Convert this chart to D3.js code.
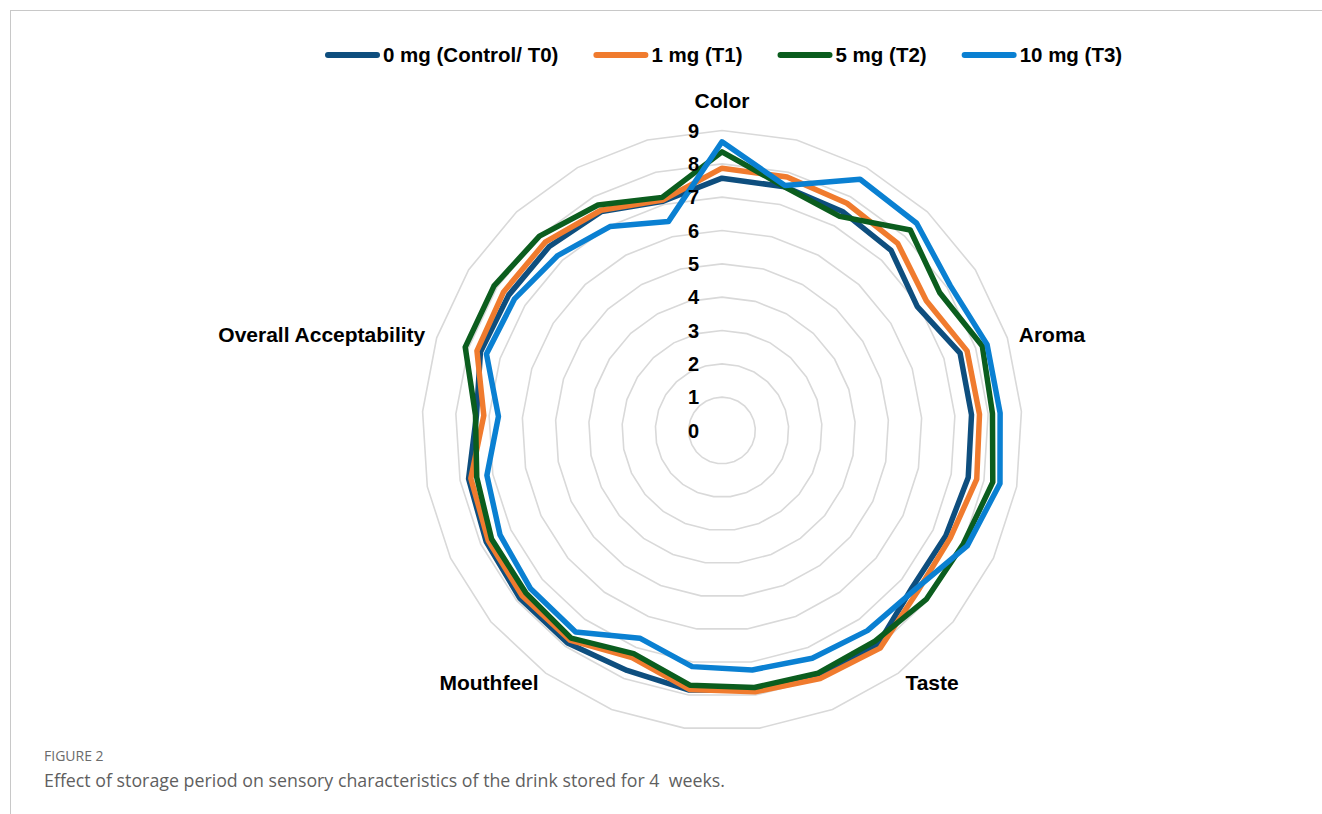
<!DOCTYPE html>
<html>
<head>
<meta charset="utf-8">
<script src="https://cdn.jsdelivr.net/npm/d3@7"></script>
<style>
  body { margin: 0; background: #fff; }
  svg { display: block; }
</style>
</head>
<body>
<script>
// 5 attributes x 5 weekly readings (week 0..4), only first of each group labelled
const categories = [
  'Color', '', '', '', '',
  'Aroma', '', '', '', '',
  'Taste', '', '', '', '',
  'Mouthfeel', '', '', '', '',
  'Overall Acceptability', '', '', '', ''
];
const seriesNames = ['0 mg (Control/ T0)', '1 mg (T1)', '5 mg (T2)', '10 mg (T3)'];
const seriesColors = ['#0e4e7e', '#f07b2e', '#0b5d1e', '#0a80d2'];

const t0 = [7.57, 7.55, 7.5, 7.41, 6.94, 7.51, 7.5, 7.52, 7.42, 7.4, 7.95, 7.9, 7.85, 7.85, 7.74, 7.88, 7.88, 7.82, 7.74, 7.38, 7.62, 7.58, 7.57, 7.5, 7.1];
const t1 = [7.87, 7.85, 7.78, 7.7, 7.26, 7.73, 7.74, 7.78, 7.57, 7.6, 8.07, 8.0, 7.9, 7.83, 7.33, 7.77, 7.78, 7.75, 7.67, 7.16, 7.73, 7.76, 7.75, 7.54, 7.14];
const t2 = [8.36, 7.55, 7.33, 8.25, 7.73, 8.21, 8.13, 8.27, 8.0, 7.95, 7.81, 7.83, 7.77, 7.7, 7.2, 7.7, 7.64, 7.64, 7.49, 7.41, 8.1, 8.1, 8.0, 7.72, 7.22];
const t3 = [8.66, 7.59, 8.6, 8.53, 8.11, 8.36, 8.36, 8.49, 8.13, 7.5, 7.42, 7.35, 7.24, 7.14, 6.7, 7.47, 7.45, 7.36, 7.18, 6.72, 7.43, 7.37, 7.2, 6.98, 6.47];

const ticks = [0, 1, 2, 3, 4, 5, 6, 7, 8, 9];

const series = [t0, t1, t2, t3];

const width = 1322;
const height = 814;
const cx = 722;
const cy = 430.5;
const radius = 300;

const svg = d3.select('body')
  .append('svg')
  .attr('width', width)
  .attr('height', height);

// page frame
svg.append('line')
  .attr('x1', 10).attr('x2', width)
  .attr('y1', 10.5).attr('y2', 10.5)
  .attr('stroke', '#c8c8c8').attr('stroke-width', 1);
svg.append('line')
  .attr('x1', 10.5).attr('x2', 10.5)
  .attr('y1', 10).attr('y2', height)
  .attr('stroke', '#c8c8c8').attr('stroke-width', 1);

const n = categories.length;
const angle = d3.scaleLinear().domain([0, n]).range([0, 2 * Math.PI]);
const r = d3.scaleLinear().domain([0, 9]).range([0, radius]);

const g = svg.append('g').attr('transform', 'translate(' + cx + ',' + cy + ')');

const radialLine = d3.lineRadial()
  .angle(function(d, i) { return angle(i); })
  .radius(function(d) { return r(d); })
  .curve(d3.curveLinearClosed);

// grid rings
g.append('g')
  .selectAll('path')
  .data(ticks.filter(function(t) { return t > 0; }))
  .enter()
  .append('path')
  .attr('d', function(t) { return radialLine(categories.map(function() { return t; })); })
  .attr('fill', 'none')
  .attr('stroke', '#d9d9d9')
  .attr('stroke-width', 1.6);

// series
g.append('g')
  .selectAll('path')
  .data(series)
  .enter()
  .append('path')
  .attr('d', function(d) { return radialLine(d); })
  .attr('fill', 'none')
  .attr('stroke', function(d, i) { return seriesColors[i]; })
  .attr('stroke-width', 5.5)
  .attr('stroke-linejoin', 'round');

// tick labels
g.append('g')
  .selectAll('text')
  .data(ticks)
  .enter()
  .append('text')
  .attr('x', -23)
  .attr('y', function(t) { return -r(t); })
  .attr('dy', '0.36em')
  .attr('text-anchor', 'end')
  .style('font-family', 'Liberation Sans, Arial, sans-serif')
  .style('font-weight', 'bold')
  .style('font-size', '20px')
  .style('fill', '#000')
  .text(function(t) { return t; });

// category labels
g.append('g')
  .selectAll('text')
  .data(categories.map(function(c, i) { return {name: c, i: i}; })
    .filter(function(d) { return d.name !== ''; }))
  .enter()
  .append('text')
  .each(function(d) {
    var a = angle(d.i);
    var s = Math.sin(a);
    var off = Math.abs(s) < 0.1 ? 30 : 12;
    d3.select(this)
      .attr('x', (radius + off) * s)
      .attr('y', -(radius + off) * Math.cos(a))
      .attr('text-anchor', Math.abs(s) < 0.1 ? 'middle' : (s > 0 ? 'start' : 'end'));
  })
  .attr('dy', '0.36em')
  .style('font-family', 'Liberation Sans, Arial, sans-serif')
  .style('font-weight', 'bold')
  .style('font-size', '21px')
  .style('fill', '#000')
  .text(function(d) { return d.name; });

// legend
var legend = svg.append('g').attr('transform', 'translate(0, 55)');
var lx = 325;
seriesNames.forEach(function(name, i) {
  legend.append('line')
    .attr('x1', lx + 3).attr('x2', lx + 52)
    .attr('y1', 0).attr('y2', 0)
    .attr('stroke', seriesColors[i])
    .attr('stroke-width', 6)
    .attr('stroke-linecap', 'round');
  var t = legend.append('text')
    .attr('x', lx + 58)
    .attr('y', 0)
    .attr('dy', '0.36em')
    .style('font-family', 'Liberation Sans, Arial, sans-serif')
    .style('font-weight', 'bold')
    .style('font-size', '20.5px')
    .style('fill', '#000')
    .text(name);
  lx += 58 + t.node().getComputedTextLength() + 35;
});

// caption
svg.append('text')
  .attr('x', 44)
  .attr('y', 761)
  .style('font-family', 'Open Sans, sans-serif')
  .style('font-size', '14px')
  .style('fill', '#6b6b6b')
  .text('FIGURE 2');
svg.append('text')
  .attr('x', 44)
  .attr('y', 787)
  .style('font-family', 'Open Sans, sans-serif')
  .style('font-size', '17.8px')
  .style('fill', '#5f5f5f')
  .text('Effect of storage period on sensory characteristics of the drink stored for 4\u00a0 weeks.');
</script>
</body>
</html>
